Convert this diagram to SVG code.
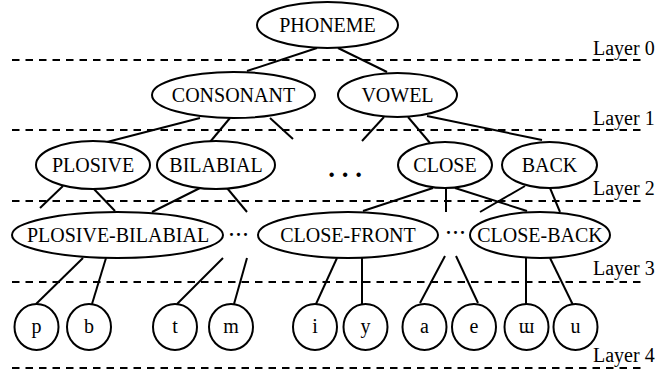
<svg xmlns="http://www.w3.org/2000/svg" width="671" height="374" viewBox="0 0 671 374">
<style>
.n{fill:#fff;stroke:#000;stroke-width:2}
.t{font-family:"Liberation Serif","Times New Roman","DejaVu Serif",serif;font-size:20px;fill:#000;text-anchor:middle}
.lab{font-family:"Liberation Serif","Times New Roman","DejaVu Serif",serif;font-size:20px;fill:#000}
.dash{stroke:#000;stroke-width:2;stroke-dasharray:7.5 6;fill:none}
.e{stroke:#000;stroke-width:2;fill:none}
</style>
<rect width="671" height="374" fill="#fff"/>
<g id="layers">
<line class="dash" x1="12" y1="60" x2="645" y2="60"/>
<line class="dash" x1="12" y1="130" x2="645" y2="130"/>
<line class="dash" x1="12" y1="201" x2="645" y2="201"/>
<line class="dash" x1="12" y1="282" x2="645" y2="282"/>
<line class="dash" x1="12" y1="368" x2="645" y2="368"/>
<text class="lab" x="593" y="55">Layer 0</text>
<text class="lab" x="593" y="125">Layer 1</text>
<text class="lab" x="593" y="195">Layer 2</text>
<text class="lab" x="593" y="275">Layer 3</text>
<text class="lab" x="593" y="362">Layer 4</text>
</g>
<g id="connectors">
<line class="e" x1="317" y1="48" x2="247" y2="71"/>
<line class="e" x1="338" y1="48" x2="387" y2="72"/>
<line class="e" x1="200" y1="118" x2="107" y2="142"/>
<line class="e" x1="230" y1="118" x2="210" y2="142"/>
<line class="e" x1="270" y1="118" x2="293" y2="139"/>
<line class="e" x1="384" y1="117" x2="362" y2="141"/>
<line class="e" x1="408" y1="117" x2="430" y2="143"/>
<line class="e" x1="427" y1="116" x2="542" y2="140"/>
<line class="e" x1="63" y1="186" x2="40" y2="208"/>
<line class="e" x1="92" y1="187" x2="115" y2="211"/>
<line class="e" x1="200" y1="188" x2="152" y2="212"/>
<line class="e" x1="227" y1="188" x2="247" y2="212"/>
<line class="e" x1="433" y1="188" x2="363" y2="211"/>
<line class="e" x1="446" y1="188" x2="446" y2="212"/>
<line class="e" x1="455" y1="188" x2="527" y2="211"/>
<line class="e" x1="525" y1="186" x2="480" y2="212"/>
<line class="e" x1="550" y1="188" x2="560" y2="212"/>
<line class="e" x1="83" y1="258" x2="36" y2="304"/>
<line class="e" x1="106" y1="258" x2="92" y2="304"/>
<line class="e" x1="223" y1="258" x2="177" y2="304"/>
<line class="e" x1="247" y1="258" x2="234" y2="304"/>
<line class="e" x1="337" y1="258" x2="316" y2="304"/>
<line class="e" x1="362" y1="258" x2="362" y2="304"/>
<line class="e" x1="445" y1="256" x2="420" y2="303"/>
<line class="e" x1="456" y1="256" x2="478" y2="303"/>
<line class="e" x1="526" y1="258" x2="526" y2="304"/>
<line class="e" x1="550" y1="258" x2="573" y2="305"/>
</g>
<g id="phoneme"><ellipse class="n" cx="327.5" cy="25" rx="70.5" ry="23"/><text class="t" x="327.5" y="32">PHONEME</text></g>
<g id="consonant"><ellipse class="n" cx="233.5" cy="95" rx="81.5" ry="23"/><text class="t" x="233.5" y="102">CONSONANT</text></g>
<g id="vowel"><ellipse class="n" cx="397.5" cy="95" rx="59.5" ry="22"/><text class="t" x="397.5" y="102">VOWEL</text></g>
<g id="plosive"><ellipse class="n" cx="93" cy="165" rx="57" ry="24"/><text class="t" x="93" y="172">PLOSIVE</text></g>
<g id="bilabial"><ellipse class="n" cx="216" cy="165" rx="59" ry="24"/><text class="t" x="216" y="172">BILABIAL</text></g>
<g id="close"><ellipse class="n" cx="445" cy="165" rx="47" ry="23"/><text class="t" x="445" y="172">CLOSE</text></g>
<g id="back"><ellipse class="n" cx="549.5" cy="165" rx="47.5" ry="23"/><text class="t" x="549.5" y="172">BACK</text></g>
<g id="plosive-bilabial"><ellipse class="n" cx="117.5" cy="235" rx="105.5" ry="23"/><text class="t" x="118" y="242">PLOSIVE-BILABIAL</text></g>
<g id="close-front"><ellipse class="n" cx="348" cy="235" rx="90" ry="23"/><text class="t" x="348" y="242">CLOSE-FRONT</text></g>
<g id="close-back"><ellipse class="n" cx="540" cy="235" rx="70" ry="23"/><text class="t" x="540" y="242">CLOSE-BACK</text></g>
<g id="ellipses">
<text class="t" x="345" y="177" style="font-size:27px;font-weight:bold">. . .</text>
<text class="t" x="239" y="241" style="font-size:18px;letter-spacing:1px;font-weight:bold">···</text>
<text class="t" x="456" y="239" style="font-size:18px;letter-spacing:1px;font-weight:bold">···</text>
</g>
<g id="leaf-p"><ellipse class="n" cx="36.5" cy="327" rx="22" ry="23"/><text class="t" x="36.5" y="333">p</text></g>
<g id="leaf-b"><ellipse class="n" cx="89" cy="327" rx="22" ry="23"/><text class="t" x="89" y="333">b</text></g>
<g id="leaf-t"><ellipse class="n" cx="175" cy="327" rx="22" ry="23"/><text class="t" x="175" y="333">t</text></g>
<g id="leaf-m"><ellipse class="n" cx="231" cy="327" rx="22" ry="23"/><text class="t" x="231" y="333">m</text></g>
<g id="leaf-i"><ellipse class="n" cx="315" cy="327" rx="22" ry="23"/><text class="t" x="315" y="333">i</text></g>
<g id="leaf-y"><ellipse class="n" cx="365.5" cy="327" rx="22" ry="23"/><text class="t" x="365.5" y="333">y</text></g>
<g id="leaf-a"><ellipse class="n" cx="424.5" cy="327" rx="22" ry="23"/><text class="t" x="424.5" y="333">a</text></g>
<g id="leaf-e"><ellipse class="n" cx="474" cy="327" rx="22" ry="23"/><text class="t" x="474" y="333">e</text></g>
<g id="leaf-w"><ellipse class="n" cx="526.5" cy="327" rx="22" ry="23"/><text class="t" x="526.5" y="333">ɯ</text></g>
<g id="leaf-u"><ellipse class="n" cx="575.5" cy="327" rx="22" ry="23"/><text class="t" x="575.5" y="333">u</text></g>
</svg>
